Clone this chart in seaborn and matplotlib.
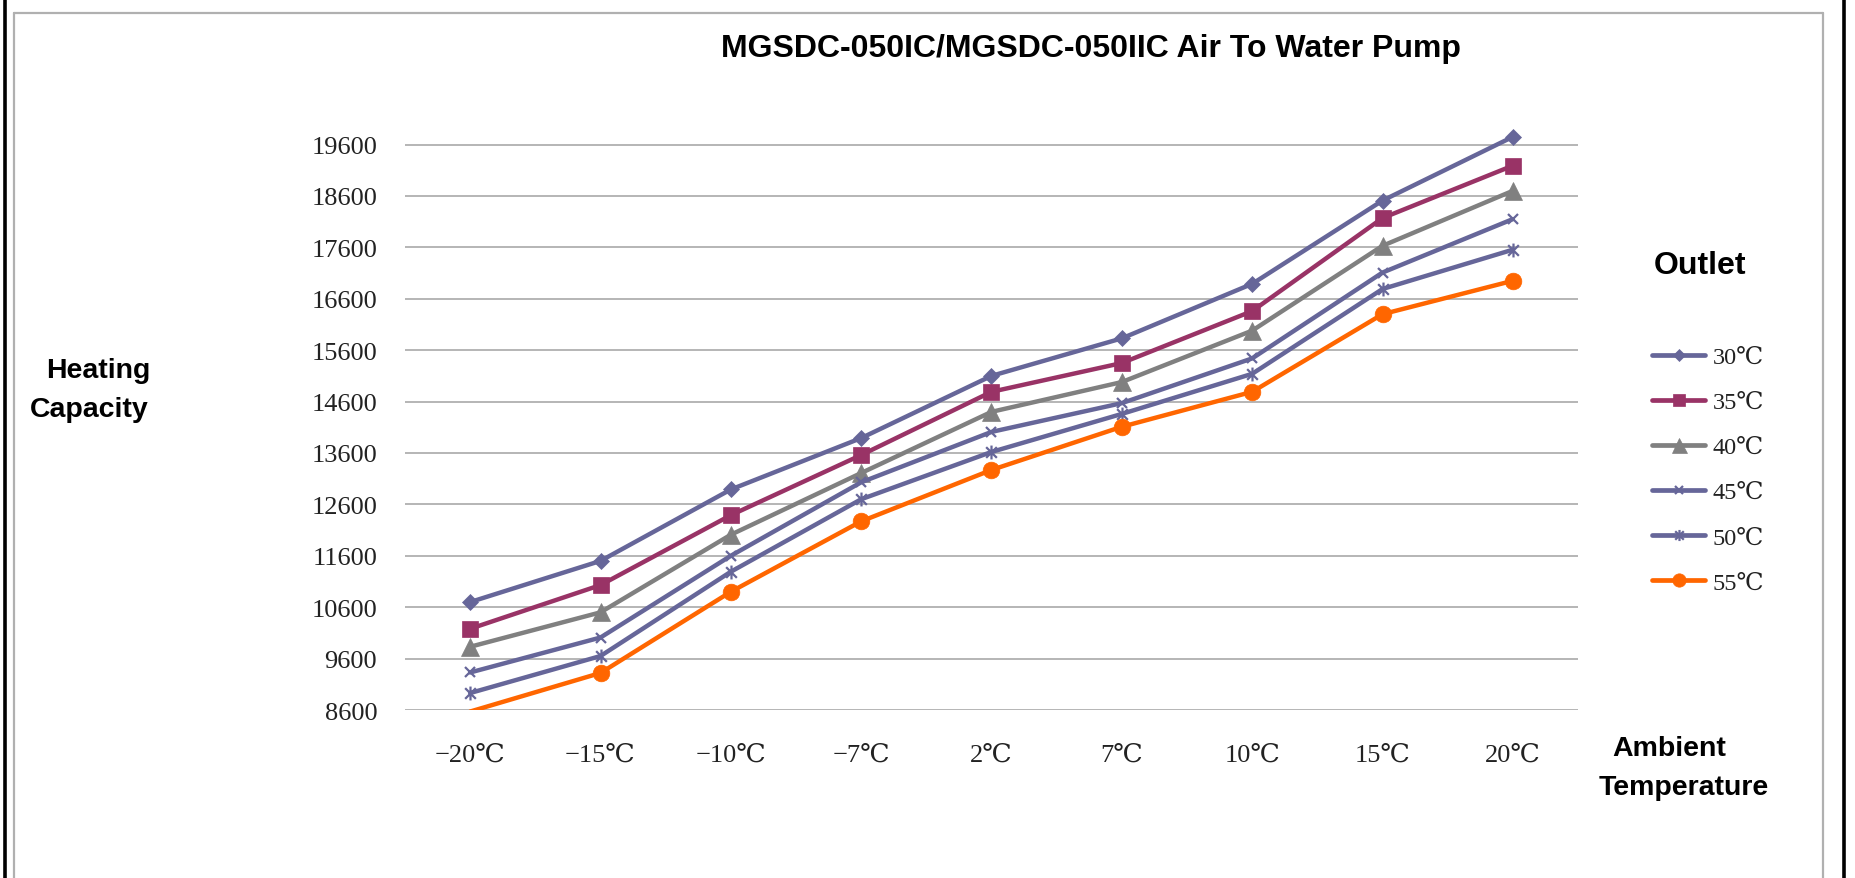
import numpy as np
import pandas as pd
import matplotlib
matplotlib.use("Agg")
import matplotlib.pyplot as plt
from matplotlib.path import Path
from matplotlib.lines import Line2D
import seaborn as sns

# ---------------- data ----------------
categories = ["\u221220\u2103", "\u221215\u2103", "\u221210\u2103", "\u22127\u2103",
              "2\u2103", "7\u2103", "10\u2103", "15\u2103", "20\u2103"]
series_names = ["30\u2103", "35\u2103", "40\u2103", "45\u2103", "50\u2103", "55\u2103"]
cap_30 = [10700, 11500, 12890, 13890, 15100, 15830, 16890, 18510, 19750]
cap_35 = [10180, 11030, 12390, 13560, 14790, 15350, 16360, 18170, 19190]
cap_40 = [9830, 10500, 12010, 13210, 14400, 14980, 15980, 17630, 18700]
cap_45 = [9330, 10010, 11600, 13030, 14010, 14570, 15440, 17110, 18150]
cap_50 = [8930, 9650, 11290, 12700, 13620, 14360, 15140, 16790, 17555]
cap_55 = [8570, 9320, 10900, 12270, 13270, 14110, 14790, 16300, 16950]
y_ticks = [8600, 9600, 10600, 11600, 12600, 13600, 14600, 15600, 16600, 17600, 18600, 19600]
y_min, y_max = 8600, 20000

title = "MGSDC-050IC/MGSDC-050IIC Air To Water Pump"

# ---------------- style ----------------
sns.set_theme(style="white")
serif = ["Liberation Serif", "DejaVu Serif", "DejaVu Sans", "Noto Sans CJK SC"]
bold = ["Liberation Sans", "DejaVu Sans"]
plt.rcParams["font.family"] = serif

W, H = 1856, 879
fig = plt.figure(figsize=(W / 100, H / 100), dpi=100)
fig.patch.set_facecolor("white")

def fx(px):
    return px / W

def fy(py):
    return 1 - py / H

ax_l, ax_r, ax_t, ax_b = 405, 1578, 125, 711
ax = fig.add_axes([fx(ax_l), fy(ax_b), fx(ax_r - ax_l), (ax_b - ax_t) / H])

# asterisk marker (x plus vertical bar)
ast = Path([(-1, -1), (1, 1), (-1, 1), (1, -1), (0, -1.3), (0, 1.3)],
           [Path.MOVETO, Path.LINETO, Path.MOVETO, Path.LINETO, Path.MOVETO, Path.LINETO])

purple = "#666699"
styles = {
    "30\u2103": dict(color=purple, marker="D", ms=7.8),
    "35\u2103": dict(color="#993366", marker="s", ms=11),
    "40\u2103": dict(color="#808080", marker="^", ms=13.5),
    "45\u2103": dict(color=purple, marker="x", ms=7, mew=1.6),
    "50\u2103": dict(color=purple, marker=ast, ms=10, mew=1.6),
    "55\u2103": dict(color="#FF6600", marker="o", ms=12),
}
all_vals = [cap_30, cap_35, cap_40, cap_45, cap_50, cap_55]
x_pos = np.arange(len(categories))

handles = []
for name, vals in zip(series_names, all_vals):
    st = styles[name]
    df = pd.DataFrame({"x": x_pos, "y": vals})
    visible = [i for i, v in enumerate(vals) if v >= y_min]
    kw = dict(color=st["color"], marker=st["marker"], markersize=st["ms"],
              markerfacecolor=st["color"], markeredgecolor=st["color"],
              markeredgewidth=st.get("mew", 0.5), linewidth=3.2,
              markevery=visible)
    sns.lineplot(data=df, x="x", y="y", ax=ax, sort=False, legend=False,
                 errorbar=None, **kw)
    handles.append(Line2D([], [], color=st["color"], marker=st["marker"],
                          markersize=st["ms"] * 0.8, markerfacecolor=st["color"],
                          markeredgecolor=st["color"],
                          markeredgewidth=st.get("mew", 0.5), linewidth=3.4,
                          label=name))

ax.set_xlim(-0.5, len(categories) - 0.5)
ax.set_ylim(y_min, y_max)
ax.set_yticks(y_ticks)
ax.set_yticklabels([str(t) for t in y_ticks])
ax.set_xticks(x_pos)
ax.set_xticklabels(categories)
ax.set_xlabel("")
ax.set_ylabel("")
ax.yaxis.grid(True, color="#b0b0b0", linewidth=1.3)
ax.xaxis.grid(False)
for s in ax.spines.values():
    s.set_visible(False)
ax.tick_params(axis="y", length=0, pad=20, labelsize=19, labelcolor="#222222")
ax.tick_params(axis="x", length=0, pad=24, labelsize=19, labelcolor="#222222")
for lab in ax.get_xticklabels() + ax.get_yticklabels():
    lab.set_family(serif)

# title and axis labels
fig.text(fx(1091), fy(57), title, ha="center", va="baseline",
         fontsize=23, fontweight="bold", family=bold, color="black")
fig.text(fx(98), fy(378), "Heating", ha="center", va="baseline",
         fontsize=20.5, fontweight="bold", family=bold, color="black")
fig.text(fx(89), fy(417), "Capacity", ha="center", va="baseline",
         fontsize=20.5, fontweight="bold", family=bold, color="black")
fig.text(fx(1669), fy(756), "Ambient", ha="center", va="baseline",
         fontsize=20.5, fontweight="bold", family=bold, color="black")
fig.text(fx(1684), fy(795), "Temperature", ha="center", va="baseline",
         fontsize=20.5, fontweight="bold", family=bold, color="black")
fig.text(fx(1700), fy(274), "Outlet", ha="center", va="baseline",
         fontsize=23, fontweight="bold", family=bold, color="black")

leg = ax.legend(handles=handles, loc="upper left",
                bbox_to_anchor=(fx(1652), fy(347)), bbox_transform=fig.transFigure,
                frameon=False, fontsize=17.5, handlelength=2.2, handletextpad=0.3,
                labelspacing=0.95, borderpad=0, borderaxespad=0)
for t in leg.get_texts():
    t.set_family(serif)
    t.set_color("#222222")

# page frame
def fline(x0, y0, x1, y1, color, lw):
    fig.add_artist(Line2D([fx(x0), fx(x1)], [fy(y0), fy(y1)], color=color,
                          linewidth=lw, transform=fig.transFigure))

fline(5.5, 0, 5.5, H, "black", 2.6)
fline(1844, 0, 1844, H, "black", 2.6)
fline(14.3, 14.3, 14.3, H, "#b0b0b0", 1.6)
fline(1823.5, 14.3, 1823.5, H, "#b0b0b0", 1.6)
fline(14.3, 14.3, 1823.5, 14.3, "#b0b0b0", 1.6)

fig.savefig("out.png", dpi=100, facecolor="white")
